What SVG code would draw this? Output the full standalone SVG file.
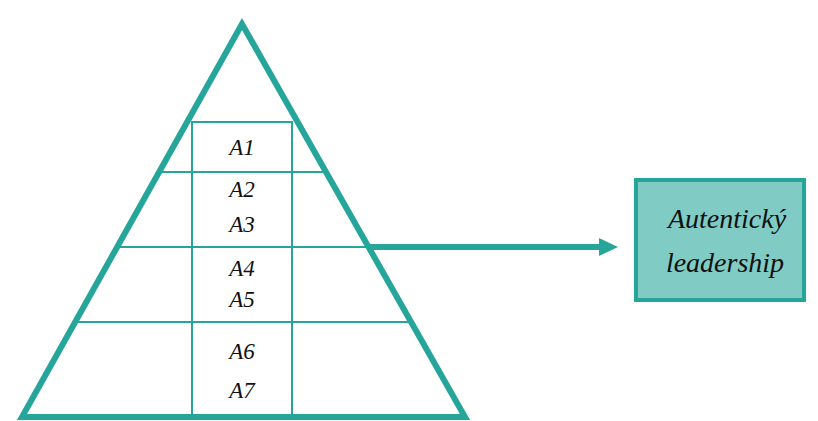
<svg xmlns="http://www.w3.org/2000/svg" width="818" height="421" viewBox="0 0 818 421">
<style>
.thin{stroke:#26a69a;stroke-width:2;fill:none}
.lbl{font-family:"Liberation Serif","Times New Roman",serif;font-style:italic;font-size:23px;fill:#111;text-anchor:middle}
.box{font-family:"Liberation Serif","Times New Roman",serif;font-style:italic;font-size:28px;fill:#111;text-anchor:middle}
</style>
<defs>
<marker id="ah" markerWidth="19" markerHeight="18" refX="0" refY="9" orient="auto" markerUnits="userSpaceOnUse">
<path d="M0,0 L19,9 L0,18 Z" fill="#26a69a"/>
</marker>
</defs>
<g id="pyramid">
<line class="thin" x1="159" y1="172" x2="326" y2="172"/>
<line class="thin" x1="117" y1="247" x2="368" y2="247"/>
<line class="thin" x1="75" y1="322" x2="411" y2="322"/>
<rect class="thin" x="192" y="122" width="100" height="295"/>
<polygon points="242,24 22,417 465,417" fill="none" stroke="#26a69a" stroke-width="6"/>
</g>
<g id="labels">
<text class="lbl" x="242" y="155">A1</text>
<text class="lbl" x="242" y="197">A2</text>
<text class="lbl" x="242" y="232">A3</text>
<text class="lbl" x="242" y="276">A4</text>
<text class="lbl" x="242" y="307">A5</text>
<text class="lbl" x="242" y="359">A6</text>
<text class="lbl" x="242" y="398">A7</text>
</g>
<g id="connectors">
<line x1="369" y1="247" x2="599" y2="247" stroke="#26a69a" stroke-width="6" marker-end="url(#ah)"/>
</g>
<g id="autenticky">
<rect x="636" y="180" width="168" height="120" fill="#80cbc4" stroke="#26a69a" stroke-width="4"/>
<text class="box" x="727" y="228">Autentický</text>
<text class="box" x="725" y="272">leadership</text>
</g>
</svg>
